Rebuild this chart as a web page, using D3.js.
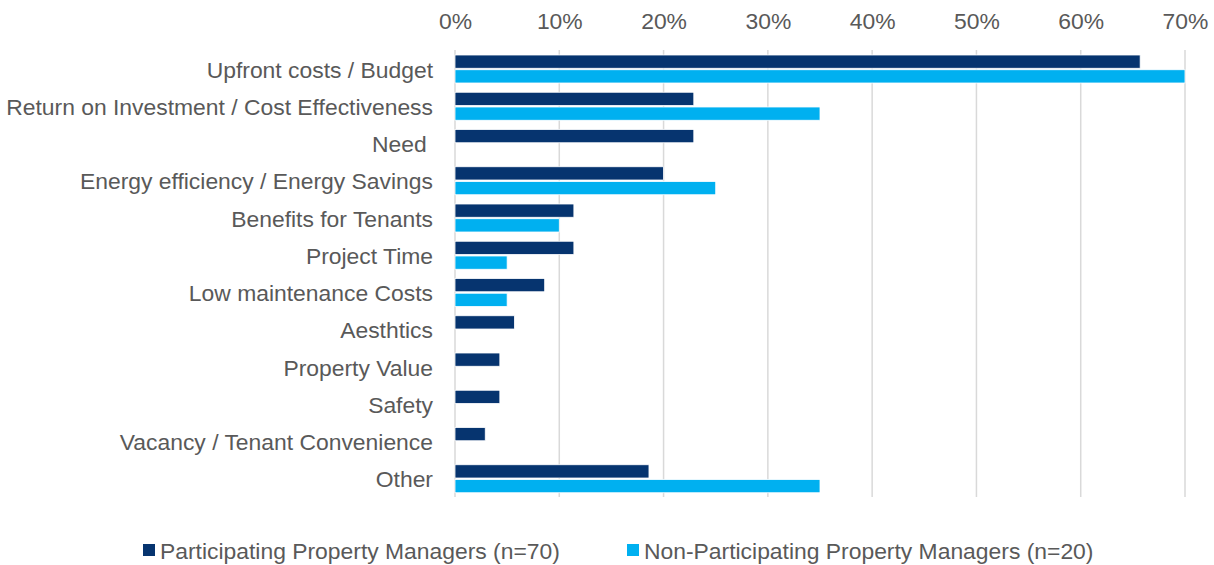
<!DOCTYPE html>
<html><head><meta charset="utf-8">
<script src="https://cdn.jsdelivr.net/npm/d3@7"></script>
<style>
body{margin:0;background:#fff;}
text{font-family:"Liberation Sans",Arial,sans-serif;fill:#595959;}
</style></head><body>
<svg id="c" width="1214" height="565"></svg>
<script>
const categories = ["Upfront costs / Budget","Return on Investment / Cost Effectiveness","Need ","Energy efficiency / Energy Savings","Benefits for Tenants","Project Time","Low maintenance Costs","Aesthtics","Property Value","Safety","Vacancy / Tenant Convenience","Other"];
const participating = [65.7,22.9,22.9,20.0,11.4,11.4,8.6,5.7,4.3,4.3,2.9,18.6];
const nonParticipating = [70,35,0,25,10,5,5,0,0,0,0,35];
const seriesNames = ["Participating Property Managers (n=70)","Non-Participating Property Managers (n=20)"];
const colors = ["#06346F","#00B0F0"];
const tickValues = [0,10,20,30,40,50,60,70];

const svg = d3.select("#c");
const x = d3.scaleLinear().domain([0,70]).range([455,1185]);
const y = d3.scaleBand().domain(categories).range([50,497]).paddingInner(0).paddingOuter(0);
const sub = d3.scaleBand().domain([0,1]).range([5,33]).paddingInner(0.1);

function fit(sel, w){ sel.each(function(){ const t=this; const l=t.getComputedTextLength(); if(l>0) t.setAttribute("font-size", 20*w/l); }); }

svg.append("g").selectAll("line").data(tickValues).join("line")
  .attr("x1",d=>x(d)).attr("x2",d=>x(d)).attr("y1",50).attr("y2",497)
  .attr("stroke","#D9D9D9").attr("stroke-width",1.5);

const ax = d3.axisTop(x).tickValues(tickValues).tickFormat(d=>d+"%").tickSize(0).tickPadding(0);
const axg = svg.append("g").attr("transform","translate(0,29)").call(ax);
axg.select(".domain").remove();
axg.selectAll("text").attr("font-size",20).attr("fill","#595959").style("font-family",null);

const series = [participating, nonParticipating];
series.forEach((vals,si)=>{
  svg.append("g").selectAll("rect").data(vals.map((v,i)=>({v,c:categories[i]})).filter(d=>d.v>0)).join("rect")
    .attr("x",x(0)).attr("y",d=>y(d.c)+sub(si))
    .attr("width",d=>x(d.v)-x(0)).attr("height",sub.bandwidth())
    .attr("fill",colors[si]).attr("stroke","#fff").attr("stroke-width",0.8);
});

const labels = svg.append("g").selectAll("text").data(categories).join("text")
  .attr("x",433).attr("y",d=>y(d)+y.bandwidth()/2+1).attr("dy","0.35em")
  .attr("text-anchor","end").attr("font-size",20).style("white-space","pre").text(d=>d);
// scale font so the longest label matches the reference width
const longest = labels.filter((d,i)=>i===1).node().getComputedTextLength();
const fs = 20*427/longest;
labels.attr("font-size",fs);

const lx=[143,627];
seriesNames.forEach((n,i)=>{
  svg.append("rect").attr("x",lx[i]).attr("y",544).attr("width",12).attr("height",12).attr("fill",colors[i]);
  svg.append("text").attr("x",lx[i]+17).attr("y",551).attr("dy","0.35em").attr("font-size",fs).text(n);
});
axg.selectAll("text").attr("font-size",fs);
</script></body></html>
